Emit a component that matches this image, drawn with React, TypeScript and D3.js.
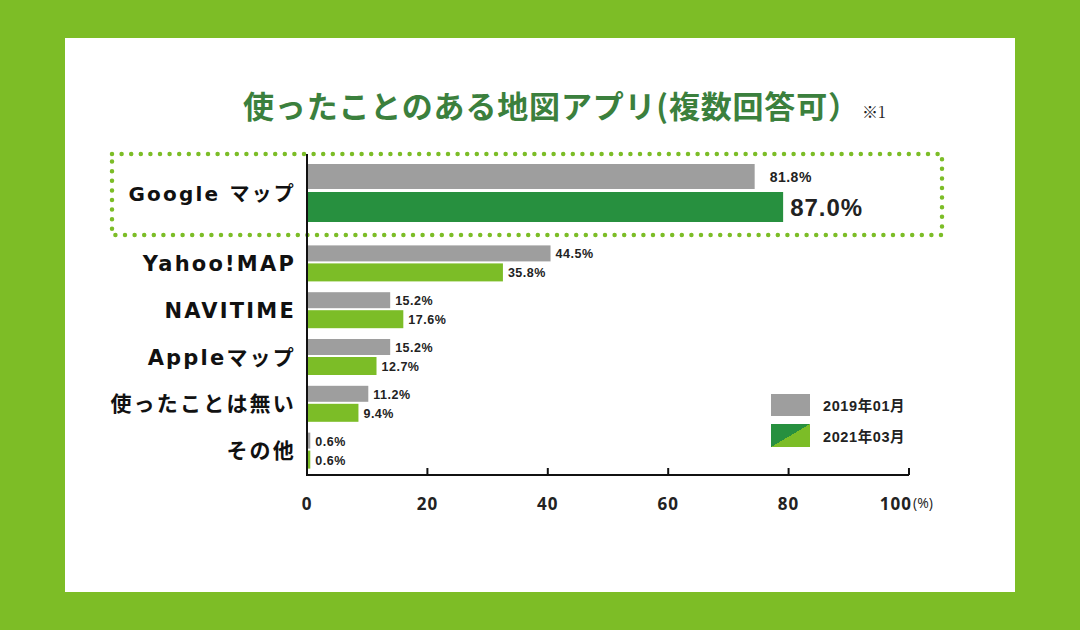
import React from "react";
import * as d3 from "d3";

const categories = ["Google マップ", "Yahoo!MAP", "NAVITIME", "Appleマップ", "使ったことは無い", "その他"];
const values2019 = [81.8, 44.5, 15.2, 15.2, 11.2, 0.6];
const values2021 = [87.0, 35.8, 17.6, 12.7, 9.4, 0.6];
const tickValues = [0, 20, 40, 60, 80, 100];
const seriesNames = ["2019年01月", "2021年03月"];
const title = "使ったことのある地図アプリ(複数回答可）";
const note = "※1";

const W = 1080;
const H = 630;
const GRAY = "#9e9e9e";
const DARK = "#27903f";
const LIGHT = "#7cbd27";
const TITLE = "#3b803d";
const JP = "'Liberation Sans', 'Noto Sans CJK JP', sans-serif";
const CAT = "'DejaVu Sans', 'Noto Sans CJK JP', sans-serif";

export default function App() {
  const x0 = 307;
  const x1 = 909;
  const axisScale = d3.scaleLinear().domain([0, 100]).range([x0, x1]);
  // bars in the original are drawn on a slightly compressed scale
  const barScale = d3.scaleLinear().domain([0, 110]).range([x0, x1]);
  const rest = categories.slice(1);
  const yBand = d3.scaleBand<string>().domain(rest).range([240, 474]);
  const axisY = 475;

  const rows = categories.map((c, i) => {
    const big = i === 0;
    const cy = big ? 193 : (yBand(c) as number) + yBand.bandwidth() / 2;
    const h1 = big ? 25 : 16;
    const h2 = big ? 30 : 18;
    const gap = big ? 3 : 2;
    const top = cy - (h1 + gap + h2) / 2;
    return { c, i, big, cy, h1, h2, gap, top };
  });

  return (
    <svg width={W} height={H} style={{ position: "absolute", left: 0, top: 0 }}>
      <defs>
        <linearGradient id="legend2" x1="0" y1="0" x2="1" y2="1">
          <stop offset="50%" stopColor={DARK} />
          <stop offset="50%" stopColor={LIGHT} />
        </linearGradient>
      </defs>
      <rect x={0} y={0} width={W} height={H} fill="#7dbd26" />
      <rect x={65} y={38} width={950} height={554} fill="#ffffff" />

      <text x={243} y={118} fontFamily="'Noto Sans CJK JP', sans-serif" fontWeight={700} fontSize={31} fill={TITLE}
        textLength={616} lengthAdjust="spacing">
        {title}
      </text>
      <text x={862} y={118} fontFamily="'Noto Serif CJK JP', 'DejaVu Serif', serif" fontSize={16} fill="#222">
        {note}
      </text>

      {/* dotted highlight box */}
      <rect x={112} y={154} width={830} height={81} fill="none" stroke={LIGHT} strokeWidth={4.5}
        strokeDasharray="0 9.6" strokeLinecap="round" />

      {rows.map((r) => (
        <g key={r.c}>
          <rect x={barScale(0)} y={r.top} width={barScale(values2019[r.i]) - barScale(0)} height={r.h1} fill={GRAY} />
          <rect x={barScale(0)} y={r.top + r.h1 + r.gap} width={barScale(values2021[r.i]) - barScale(0)} height={r.h2}
            fill={r.big ? DARK : LIGHT} />
          <text x={barScale(values2019[r.i]) + (r.big ? 15 : 5)} y={r.top + r.h1 / 2 + 5}
            fontFamily="'Liberation Sans', sans-serif" fontWeight={700} fontSize={r.big ? 14 : 12.5}
            letterSpacing={0.5} fill="#222">
            {values2019[r.i].toFixed(1)}%
          </text>
          <text x={barScale(values2021[r.i]) + (r.big ? 7 : 5)} y={r.top + r.h1 + r.gap + r.h2 / 2 + (r.big ? 9 : 5)}
            fontFamily="'Liberation Sans', sans-serif" fontWeight={700} fontSize={r.big ? 24 : 12.5}
            letterSpacing={r.big ? 1 : 0.5} fill="#222">
            {values2021[r.i].toFixed(1)}%
          </text>
          <text x={296} y={r.cy + 7.5} textAnchor="end" fontFamily={CAT} fontWeight={700}
            fontSize={r.big ? 20 : 21} letterSpacing={2.2} fill="#111">
            {r.c}
          </text>
        </g>
      ))}

      {/* axes */}
      <line x1={x0} x2={x0} y1={154} y2={axisY + 1} stroke="#111" strokeWidth={2} />
      <line x1={x0} x2={x1} y1={axisY} y2={axisY} stroke="#111" strokeWidth={2} />
      {tickValues.map((t, i) => {
        const last = i === tickValues.length - 1;
        return (
          <g key={t}>
            {t > 0 && (
              <line x1={axisScale(t)} x2={axisScale(t)} y1={axisY} y2={axisY - 7} stroke="#111" strokeWidth={2} />
            )}
            <text x={last ? axisScale(t) + 3 : axisScale(t)} y={510} textAnchor={last ? "end" : "middle"}
              fontFamily="'Open Sans', sans-serif" fontWeight={700} fontSize={17} fill="#222" letterSpacing={1}>
              {t}
            </text>
          </g>
        );
      })}
      <text x={axisScale(100) + 4} y={508} fontFamily="'Open Sans', sans-serif" fontSize={14} fill="#222">
        (%)
      </text>

      {/* legend */}
      <rect x={771} y={394} width={39} height={22} fill={GRAY} />
      <text x={823} y={411} fontFamily={JP} fontWeight={700} fontSize={14.5} letterSpacing={0.6} fill="#222">{seriesNames[0]}</text>
      <rect x={771} y={424} width={39} height={23} fill="url(#legend2)" />
      <text x={823} y={442} fontFamily={JP} fontWeight={700} fontSize={14.5} letterSpacing={0.6} fill="#222">{seriesNames[1]}</text>
    </svg>
  );
}
